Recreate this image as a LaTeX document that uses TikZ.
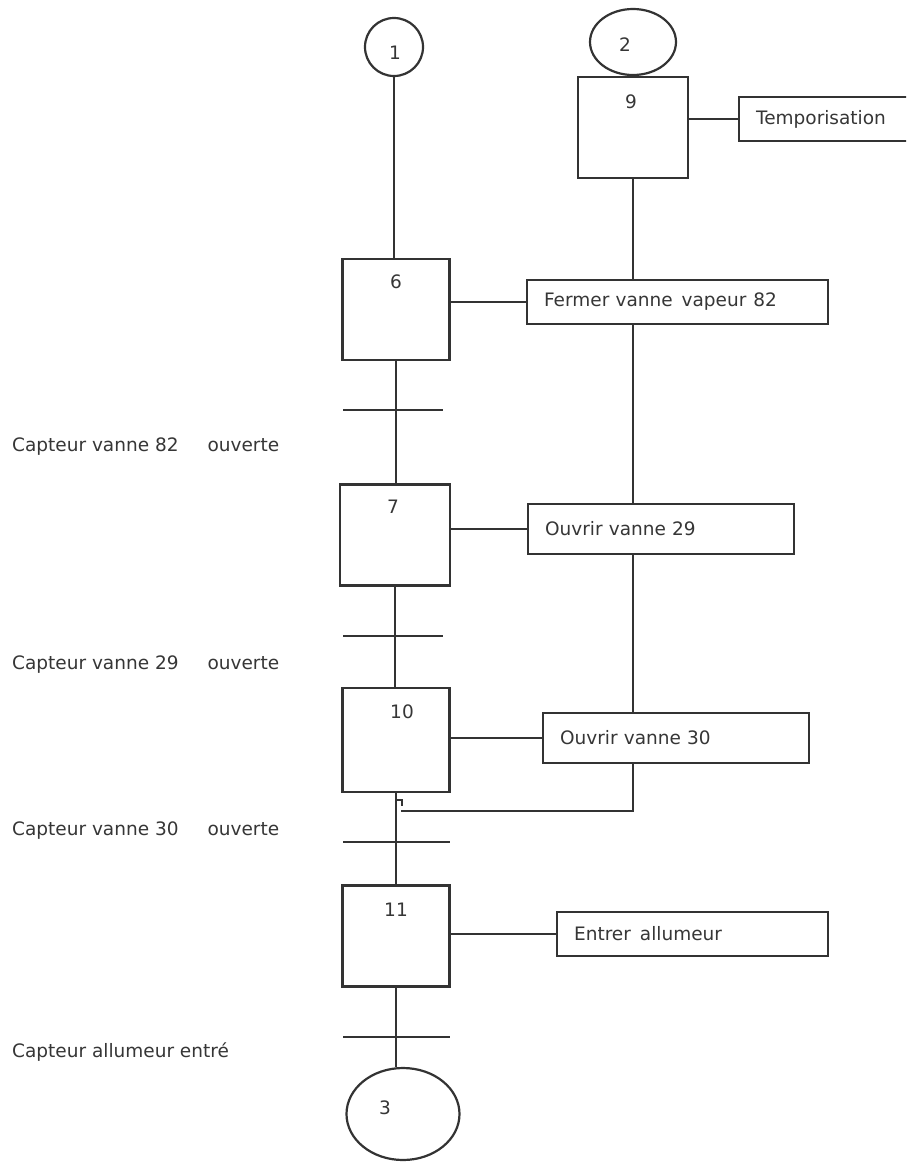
\documentclass[tikz,border=0pt]{standalone}
\usepackage{fontspec}
\setmainfont{DejaVu Sans}
\usetikzlibrary{shapes.geometric,calc}
\definecolor{txt}{HTML}{363636}
\definecolor{ln}{HTML}{333333}
\begin{document}
\begin{tikzpicture}[x=1pt,y=-1pt,
  every node/.style={font=\fontsize{18.5}{21}\selectfont, text=txt},
  line/.style={draw=ln, line width=2.2pt},
  stepbox/.style={line, rectangle, minimum width=107pt, minimum height=101pt, inner sep=0pt},
  actbox/.style={line, rectangle, anchor=west, inner xsep=17pt, inner ysep=0pt, align=left, minimum height=44pt},
  lbl/.style={anchor=west, inner sep=0pt},
  num/.style={inner sep=0pt}]
\useasboundingbox (0,0) rectangle (906,1162);
\clip (0,0) rectangle (906,1162);
\fill[white] (0,0) rectangle (906,1162);

% initial / final references
\node[line, circle, minimum size=58pt, inner sep=0pt] (c1) at (394,47) {};
\node[num] (n1) at (395,53) {1};
\node[line, ellipse, minimum width=86pt, minimum height=66pt, inner sep=0pt] (c2) at (633,42) {};
\node[num] (n2) at (625,45) {2};
\node[line, ellipse, minimum width=113pt, minimum height=92pt, inner sep=0pt] (c3) at (403,1114) {};
\node[num] (n3) at (385,1108) {3};

% steps
\node[stepbox, minimum width=110pt] (s9) at (633,127.5) {};
\node[num] (n9) at (631,102) {9};
\node[stepbox] (s6) at (396,309.5) {};
\node[num] (n6) at (396,282) {6};
\node[stepbox, minimum width=110pt] (s7) at (395,535) {};
\node[num] (n7) at (393,507) {7};
\node[stepbox, minimum height=104pt] (s10) at (396,740) {};
\node[num] (n10) at (402,712) {10};
\node[stepbox] (s11) at (396,936) {};
\node[num] (n11) at (396,910) {11};

% actions
\node[actbox, text width=141pt] (tempo) at (738,119) {Temporisation};
\node[actbox, text width=267pt] (fermer) at (526,302) {Fermer vanne\hspace{9pt}vapeur\hspace{7pt}82};
\node[actbox, text width=232pt, minimum height=50pt] (o29) at (527,529) {Ouvrir vanne 29};
\node[actbox, text width=232pt, minimum height=50pt] (o30) at (542,738) {Ouvrir vanne 30};
\node[actbox, text width=237pt] (entrer) at (556,934) {Entrer\hspace{9pt}allumeur};

% receptivity labels
\node[lbl] (r1) at (12,447) {Capteur vanne 82\hspace{29pt}ouverte};
\node[lbl] (r2) at (12,665) {Capteur vanne 29\hspace{29pt}ouverte};
\node[lbl] (r3) at (12,831) {Capteur vanne 30\hspace{29pt}ouverte};
\node[lbl] (r4) at (12,1052) {Capteur allumeur entré};

% main sequence links
\draw[line] (c1.south) -- (c1.south |- s6.north);
\draw[line] (s6.south) -- (s6.south |- s7.north);
\draw[line] (s7.south) -- (s7.south |- s10.north);
\draw[line] (s10.south) -- (s10.south |- s11.north);
\draw[line] (s11.south) -- (s11.south |- c3.north);

% transitions
\coordinate (t1) at (395,410);
\coordinate (t2) at (395,636);
\coordinate (t3) at (395,842);
\coordinate (t4) at (395,1037);
\draw[line] ($(t1)+(-52,0)$) -- ($(t1)+(48,0)$);
\draw[line] ($(t2)+(-52,0)$) -- ($(t2)+(48,0)$);
\draw[line] ($(t3)+(-52,0)$) -- ($(t3)+(55,0)$);
\draw[line] ($(t4)+(-52,0)$) -- ($(t4)+(55,0)$);

% step-action links
\draw[line] (s9.east |- tempo.west) -- (tempo.west);
\draw[line] (s6.east |- fermer.west) -- (fermer.west);
\draw[line] (s7.east |- o29.west) -- (o29.west);
\draw[line] (s10.east |- o30.west) -- (o30.west);
\draw[line] (s11.east |- entrer.west) -- (entrer.west);

% right-hand line
\draw[line] (s9.south) -- (s9.south |- fermer.north);
\draw[line] (s9.south |- fermer.south) -- (s9.south |- o29.north);
\draw[line] (s9.south |- o29.south) -- (s9.south |- o30.north);
\coordinate (hk) at (401,811);
\draw[line] (s9.south |- o30.south) |- (hk);
\coordinate (hka) at (396,800);
\coordinate (hkb) at (402,806);
\draw[line] (hka) -| (hkb);
\end{tikzpicture}
\end{document}
